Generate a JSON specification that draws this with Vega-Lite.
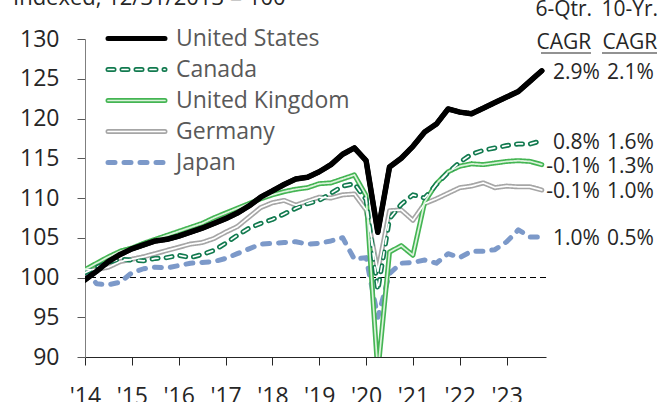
{
  "$schema": "https://vega.github.io/schema/vega-lite/v6.json",
  "width": 461,
  "height": 318,
  "autosize": {"type": "none"},
  "padding": {"left": 85, "top": 39, "right": 113, "bottom": 45},
  "background": "white",
  "config": {
    "font": "Open Sans",
    "view": {"stroke": null},
    "axis": {"grid": false, "labelFont": "Open Sans", "labelFontSize": 23, "labelColor": "#262626", "title": null, "tickSize": 8, "domainWidth": 1, "tickWidth": 1, "labelOverlap": false}
  },
  "datasets": {
    "gdp": [
      {"t": 2014, "United States": 99.7, "Canada": 100.6, "United Kingdom": 101.0, "Germany": 101.0, "Japan": 100.9},
      {"t": 2014.25, "United States": 100.8, "Canada": 101.3, "United Kingdom": 101.8, "Germany": 101.0, "Japan": 99.2},
      {"t": 2014.5, "United States": 102.0, "Canada": 101.9, "United Kingdom": 102.6, "Germany": 101.3, "Japan": 99.1},
      {"t": 2014.75, "United States": 102.9, "Canada": 102.3, "United Kingdom": 103.3, "Germany": 102.0, "Japan": 99.4},
      {"t": 2015, "United States": 103.6, "Canada": 102.2, "United Kingdom": 103.7, "Germany": 102.3, "Japan": 100.6},
      {"t": 2015.25, "United States": 104.1, "Canada": 102.1, "United Kingdom": 104.3, "Germany": 102.6, "Japan": 101.1},
      {"t": 2015.5, "United States": 104.6, "Canada": 102.4, "United Kingdom": 104.8, "Germany": 103.0, "Japan": 101.3},
      {"t": 2015.75, "United States": 104.8, "Canada": 102.5, "United Kingdom": 105.3, "Germany": 103.4, "Japan": 101.2},
      {"t": 2016, "United States": 105.2, "Canada": 102.8, "United Kingdom": 105.8, "Germany": 103.8, "Japan": 101.5},
      {"t": 2016.25, "United States": 105.7, "Canada": 102.5, "United Kingdom": 106.3, "Germany": 104.2, "Japan": 101.8},
      {"t": 2016.5, "United States": 106.2, "Canada": 102.9, "United Kingdom": 106.8, "Germany": 104.4, "Japan": 101.9},
      {"t": 2016.75, "United States": 106.8, "Canada": 103.4, "United Kingdom": 107.5, "Germany": 104.9, "Japan": 102.0},
      {"t": 2017, "United States": 107.4, "Canada": 104.3, "United Kingdom": 108.1, "Germany": 105.7, "Japan": 102.4},
      {"t": 2017.25, "United States": 108.1, "Canada": 105.3, "United Kingdom": 108.7, "Germany": 106.4, "Japan": 103.0},
      {"t": 2017.5, "United States": 109.0, "Canada": 106.2, "United Kingdom": 109.3, "Germany": 107.6, "Japan": 103.6},
      {"t": 2017.75, "United States": 110.1, "Canada": 106.8, "United Kingdom": 109.9, "Germany": 108.8, "Japan": 104.2},
      {"t": 2018, "United States": 110.9, "Canada": 107.3, "United Kingdom": 110.4, "Germany": 109.4, "Japan": 104.3},
      {"t": 2018.25, "United States": 111.7, "Canada": 108.0, "United Kingdom": 110.8, "Germany": 109.7, "Japan": 104.4},
      {"t": 2018.5, "United States": 112.4, "Canada": 108.7, "United Kingdom": 111.1, "Germany": 109.1, "Japan": 104.5},
      {"t": 2018.75, "United States": 112.6, "Canada": 109.3, "United Kingdom": 111.3, "Germany": 109.6, "Japan": 104.2},
      {"t": 2019, "United States": 113.3, "Canada": 109.7, "United Kingdom": 111.8, "Germany": 110.1, "Japan": 104.3},
      {"t": 2019.25, "United States": 114.2, "Canada": 110.6, "United Kingdom": 111.9, "Germany": 110.0, "Japan": 104.6},
      {"t": 2019.5, "United States": 115.5, "Canada": 111.5, "United Kingdom": 112.4, "Germany": 110.4, "Japan": 105.0},
      {"t": 2019.75, "United States": 116.3, "Canada": 111.8, "United Kingdom": 112.9, "Germany": 110.5, "Japan": 102.3},
      {"t": 2020, "United States": 114.7, "Canada": 109.8, "United Kingdom": 110.3, "Germany": 108.5, "Japan": 102.5},
      {"t": 2020.25, "United States": 105.7, "Canada": 98.4, "United Kingdom": 88.0, "Germany": 100.8, "Japan": 95.0},
      {"t": 2020.5, "United States": 113.9, "Canada": 107.4, "United Kingdom": 103.2, "Germany": 108.4, "Japan": 100.5},
      {"t": 2020.75, "United States": 115.0, "Canada": 109.2, "United Kingdom": 104.0, "Germany": 108.5, "Japan": 101.8},
      {"t": 2021, "United States": 116.5, "Canada": 110.4, "United Kingdom": 102.8, "Germany": 107.2, "Japan": 101.9},
      {"t": 2021.25, "United States": 118.3, "Canada": 110.0, "United Kingdom": 109.5, "Germany": 109.3, "Japan": 102.2},
      {"t": 2021.5, "United States": 119.3, "Canada": 111.7, "United Kingdom": 111.8, "Germany": 109.9, "Japan": 101.8},
      {"t": 2021.75, "United States": 121.2, "Canada": 113.2, "United Kingdom": 113.3, "Germany": 110.6, "Japan": 103.0},
      {"t": 2022, "United States": 120.8, "Canada": 114.5, "United Kingdom": 114.0, "Germany": 111.3, "Japan": 102.5},
      {"t": 2022.25, "United States": 120.6, "Canada": 115.5, "United Kingdom": 114.3, "Germany": 111.5, "Japan": 103.3},
      {"t": 2022.5, "United States": 121.3, "Canada": 116.0, "United Kingdom": 114.2, "Germany": 111.9, "Japan": 103.3},
      {"t": 2022.75, "United States": 122.0, "Canada": 116.3, "United Kingdom": 114.4, "Germany": 111.3, "Japan": 103.5},
      {"t": 2023, "United States": 122.7, "Canada": 116.6, "United Kingdom": 114.6, "Germany": 111.5, "Japan": 104.5},
      {"t": 2023.25, "United States": 123.4, "Canada": 116.8, "United Kingdom": 114.7, "Germany": 111.4, "Japan": 106.0},
      {"t": 2023.5, "United States": 124.7, "Canada": 116.8, "United Kingdom": 114.6, "Germany": 111.4, "Japan": 105.1},
      {"t": 2023.75, "United States": 126.0, "Canada": 117.2, "United Kingdom": 114.2, "Germany": 111.0, "Japan": 105.1}
    ],
    "labels": [
      {"country": "United States", "q6": "2.9%", "y10": "2.1%"},
      {"country": "Canada", "q6": "0.8%", "y10": "1.6%"},
      {"country": "United Kingdom", "q6": "-0.1%", "y10": "1.3%"},
      {"country": "Germany", "q6": "-0.1%", "y10": "1.0%"},
      {"country": "Japan", "q6": "1.0%", "y10": "0.5%"}
    ]
  },
  "data": {"name": "gdp"},
  "transform": [{"fold": ["Japan", "Germany", "United Kingdom", "Canada", "United States"], "as": ["country", "v"]}],
  "layer": [
    {
      "data": {"values": [{}]},
      "mark": {"type": "rule", "strokeDash": [6, 4], "color": "#000000", "strokeWidth": 1},
      "encoding": {"y": {"datum": 100, "type": "quantitative", "scale": {"domain": [90, 130], "nice": false, "zero": false},
          "axis": {"values": [90, 95, 100, 105, 110, 115, 120, 125, 130], "tickCount": 9, "domainColor": "#7f7f7f", "tickColor": "#595959", "labelPadding": 18, "labelOverlap": false}}}
    },
    {
      "mark": {"type": "line", "clip": true, "strokeWidth": 5, "strokeCap": "round", "strokeJoin": "round"},
      "encoding": {
        "x": {"field": "t", "type": "quantitative", "scale": {"domain": [2014, 2023.84], "nice": false, "zero": false},
          "axis": {"values": [2014, 2015, 2016, 2017, 2018, 2019, 2020, 2021, 2022, 2023], "labelExpr": "\"'\" + (datum.value % 100)", "domainColor": "#262626", "tickColor": "#262626", "labelPadding": 20, "labelFlush": false, "labelOverlap": false, "labelBound": false}},
        "y": {"field": "v", "type": "quantitative",
          "axis": {"values": [90, 95, 100, 105, 110, 115, 120, 125, 130], "tickCount": 9, "domainColor": "#7f7f7f", "tickColor": "#595959", "labelPadding": 18, "labelOverlap": false}},
        "color": {"field": "country", "type": "nominal",
          "scale": {"domain": ["United States", "Canada", "United Kingdom", "Germany", "Japan"], "range": ["#000000", "#127a4f", "#44b553", "#a6a6a6", "#7c99c9"]},
          "legend": {"title": null, "orient": "none", "legendX": 20, "legendY": -12, "padding": 0, "symbolType": "M-4,0H4", "symbolSize": 203, "symbolStrokeWidth": 5, "symbolOffset": 20, "labelOffset": 28, "labelFontSize": 23, "labelFont": "Open Sans", "labelColor": "#595959", "rowPadding": 7, "labelLimit": 400,
            "encode": {"symbols": {"update": {"strokeCap": {"value": "round"}}}}}},
        "strokeDash": {"field": "country", "type": "nominal",
          "scale": {"domain": ["United States", "Canada", "United Kingdom", "Germany", "Japan"], "range": [[1, 0], [6, 8], [1, 0], [1, 0], [7, 9]]},
          "legend": {"title": null, "orient": "none", "legendX": 20, "legendY": -12, "padding": 0, "symbolType": "M-4,0H4", "symbolSize": 203, "symbolStrokeWidth": 5, "symbolOffset": 20, "labelOffset": 28, "labelFontSize": 23, "labelFont": "Open Sans", "labelColor": "#595959", "rowPadding": 7, "labelLimit": 400}}
      }
    },
    {
      "transform": [{"filter": {"field": "country", "oneOf": ["Canada", "United Kingdom", "Germany"]}}],
      "mark": {"type": "line", "clip": true, "strokeWidth": 1.7, "strokeCap": "round", "strokeJoin": "round"},
      "encoding": {
        "x": {"field": "t", "type": "quantitative"},
        "y": {"field": "v", "type": "quantitative"},
        "color": {"field": "country", "type": "nominal",
          "scale": {"domain": ["United States", "Canada", "United Kingdom", "Germany", "Japan"], "range": ["transparent", "#ffffff", "#dcf3dc", "#ffffff", "transparent"]},
          "legend": {"title": null, "orient": "none", "legendX": 20, "legendY": -12, "padding": 0, "symbolType": "M-4,0H4", "symbolSize": 203, "symbolStrokeWidth": 1.7, "symbolOffset": 20, "labelOffset": 28, "labelFontSize": 23, "labelFont": "Open Sans", "labelColor": "#595959", "labelOpacity": 0, "rowPadding": 7, "labelLimit": 400,
            "encode": {"symbols": {"update": {"strokeCap": {"value": "round"}}}}}},
        "strokeDash": {"field": "country", "type": "nominal",
          "scale": {"domain": ["United States", "Canada", "United Kingdom", "Germany", "Japan"], "range": [[1, 0], [6, 8], [1, 0], [1, 0], [7, 9]]},
          "legend": {"title": null, "orient": "none", "legendX": 20, "legendY": -12, "padding": 0, "symbolType": "M-4,0H4", "symbolSize": 203, "symbolStrokeWidth": 1.7, "symbolOffset": 20, "labelOffset": 28, "labelFontSize": 23, "labelFont": "Open Sans", "labelColor": "#595959", "labelOpacity": 0, "rowPadding": 7, "labelLimit": 400}}
      }
    },
    {
      "transform": [{"filter": {"field": "country", "equal": "United States"}}],
      "mark": {"type": "line", "clip": true, "strokeWidth": 5.5, "color": "#000000", "strokeCap": "round", "strokeJoin": "round"},
      "encoding": {
        "x": {"field": "t", "type": "quantitative"},
        "y": {"field": "v", "type": "quantitative"}
      }
    },
    {
      "transform": [{"filter": "datum.t == 2023.75"}, {"lookup": "country", "from": {"data": {"name": "labels"}, "key": "country", "fields": ["q6", "y10"]}}],
      "mark": {"type": "text", "align": "right", "baseline": "middle", "dx": 58, "dy": 2, "fontSize": 21, "font": "Open Sans", "color": "#262626"},
      "encoding": {
        "x": {"field": "t", "type": "quantitative"},
        "y": {"field": "v", "type": "quantitative"},
        "text": {"field": "q6", "type": "nominal"}
      }
    },
    {
      "transform": [{"filter": "datum.t == 2023.75"}, {"lookup": "country", "from": {"data": {"name": "labels"}, "key": "country", "fields": ["q6", "y10"]}}],
      "mark": {"type": "text", "align": "right", "baseline": "middle", "dx": 112, "dy": 2, "fontSize": 21, "font": "Open Sans", "color": "#262626"},
      "encoding": {
        "x": {"field": "t", "type": "quantitative"},
        "y": {"field": "v", "type": "quantitative"},
        "text": {"field": "y10", "type": "nominal"}
      }
    },
    {
      "data": {"values": [{}]},
      "mark": {"type": "text", "align": "left", "baseline": "alphabetic", "dx": -72, "fontSize": 22, "font": "Open Sans", "color": "#262626", "text": "Indexed, 12/31/2013 = 100"},
      "encoding": {"x": {"datum": 2014}, "y": {"datum": 134.28}}
    },
    {
      "data": {"values": [{}]},
      "mark": {"type": "text", "align": "center", "baseline": "middle", "dx": 22, "fontSize": 21, "font": "Open Sans", "color": "#262626", "text": "6-Qtr."},
      "encoding": {"x": {"datum": 2023.75}, "y": {"datum": 133.65}}
    },
    {
      "data": {"values": [{}]},
      "mark": {"type": "text", "align": "center", "baseline": "middle", "dx": 22, "fontSize": 21, "font": "Open Sans", "color": "#262626", "text": "CAGR"},
      "encoding": {"x": {"datum": 2023.75}, "y": {"datum": 129.5}}
    },
    {
      "data": {"values": [{}]},
      "mark": {"type": "text", "align": "center", "baseline": "middle", "dx": 88, "fontSize": 21, "font": "Open Sans", "color": "#262626", "text": "10-Yr."},
      "encoding": {"x": {"datum": 2023.75}, "y": {"datum": 133.65}}
    },
    {
      "data": {"values": [{}]},
      "mark": {"type": "text", "align": "center", "baseline": "middle", "dx": 88, "fontSize": 21, "font": "Open Sans", "color": "#262626", "text": "CAGR"},
      "encoding": {"x": {"datum": 2023.75}, "y": {"datum": 129.5}}
    },
    {
      "data": {"values": [{}]},
      "mark": {"type": "rule", "color": "#262626", "strokeWidth": 1.2},
      "encoding": {"x": {"datum": 2023.733}, "x2": {"datum": 2024.8}, "y": {"datum": 128.24}}
    },
    {
      "data": {"values": [{}]},
      "mark": {"type": "rule", "color": "#262626", "strokeWidth": 1.2},
      "encoding": {"x": {"datum": 2025.035}, "x2": {"datum": 2026.21}, "y": {"datum": 128.24}}
    }
  ],
  "resolve": {"scale": {"color": "independent", "strokeDash": "independent"}}
}
